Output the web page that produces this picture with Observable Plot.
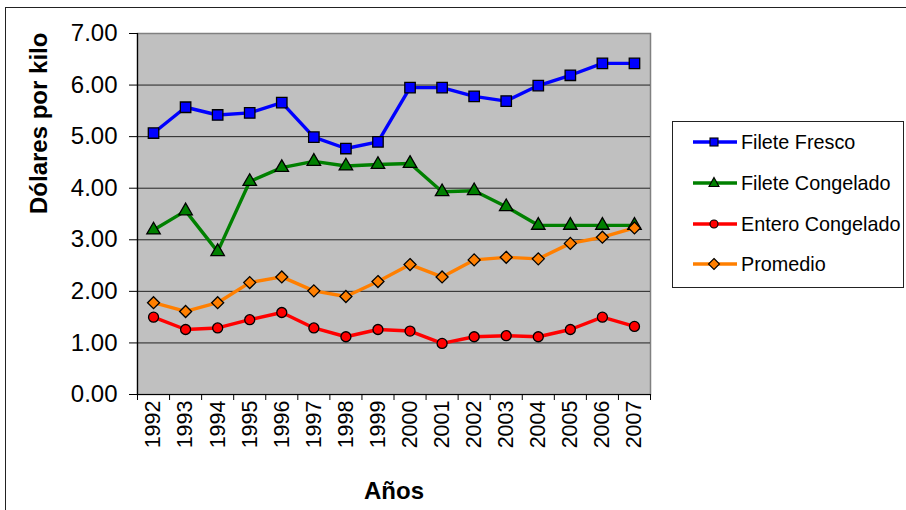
<!DOCTYPE html>
<html>
<head>
<meta charset="utf-8">
<script src="https://cdn.jsdelivr.net/npm/d3@7"></script>
<script src="https://cdn.jsdelivr.net/npm/@observablehq/plot@0.6"></script>
<style>
  html, body { margin: 0; padding: 0; background: #fff; overflow: hidden; }
  #wrap { position: relative; width: 906px; height: 510px; overflow: hidden; font-family: "Liberation Sans", Arial, sans-serif; }
  #outer { position: absolute; left: 5px; top: 7px; width: 1000px; height: 600px; border: 1.5px solid #222; box-sizing: border-box; pointer-events: none; }
  #chart { position: absolute; left: 0; top: 0; }
  #legend { position: absolute; left: 672px; top: 121px; width: 232px; height: 167px; border: 1.5px solid #222; background: #fff; box-sizing: border-box; }
  .item { position: absolute; left: 20px; height: 24px; display: flex; align-items: center; font-size: 19.8px; color: #000; white-space: nowrap; }
  .item svg { margin-right: 4px; }
</style>
</head>
<body>
<div id="wrap">
  <div id="outer"></div>
  <div id="chart"></div>
  <div id="legend"></div>
</div>
<script>
const years = [1992, 1993, 1994, 1995, 1996, 1997, 1998, 1999, 2000, 2001, 2002, 2003, 2004, 2005, 2006, 2007];
const fileteFresco     = [5.07, 5.57, 5.42, 5.46, 5.66, 4.99, 4.77, 4.90, 5.95, 5.95, 5.78, 5.69, 5.99, 6.19, 6.42, 6.42];
const fileteCongelado  = [3.19, 3.56, 2.77, 4.13, 4.40, 4.52, 4.43, 4.46, 4.48, 3.93, 3.95, 3.64, 3.28, 3.28, 3.28, 3.28];
const enteroCongelado  = [1.50, 1.26, 1.29, 1.45, 1.59, 1.29, 1.12, 1.26, 1.23, 0.99, 1.12, 1.14, 1.12, 1.26, 1.50, 1.32];
const promedio         = [1.78, 1.61, 1.78, 2.17, 2.28, 2.01, 1.90, 2.19, 2.52, 2.28, 2.61, 2.66, 2.63, 2.93, 3.05, 3.23];
const seriesNames = ["Filete Fresco", "Filete Congelado", "Entero Congelado", "Promedio"];
const yTicks = [0, 1, 2, 3, 4, 5, 6, 7];
const xTitle = "Años";
const yTitle = "Dólares por kilo";

const seriesValues = [fileteFresco, fileteCongelado, enteroCongelado, promedio];
const colors = ["#0000ff", "#008000", "#ff0000", "#ff7f00"];
const symbols = ["square", "triangle", "circle", "diamond2"];
const radii = [5.9, 5.0, 5, 5.4];

const rows = [];
seriesNames.forEach((name, i) => years.forEach((y, j) => rows.push({series: name, year: y, value: seriesValues[i][j]})));

const boundaries = years.map(y => y - 0.5).concat([years[years.length - 1] + 0.5]);
const x0 = years[0] - 0.5, x1 = years[years.length - 1] + 0.5;

const marks = [
  Plot.frame({fill: "#c0c0c0", stroke: "#808080", strokeWidth: 1.5}),
  Plot.gridY(yTicks.filter(d => d > 0 && d < 7), {stroke: "#222", strokeOpacity: 1, strokeWidth: 1}),
  Plot.ruleX([x0], {stroke: "#000", strokeWidth: 1.2}),
  Plot.ruleY([0], {stroke: "#000", strokeWidth: 1.2}),
  Plot.axisY(yTicks, {label: null, tickSize: 8, tickPadding: 12, tickFormat: d => d.toFixed(2), fontSize: 24, stroke: "#000"}),
  Plot.axisX(boundaries, {label: null, tickSize: 6, tickFormat: () => "", stroke: "#000"}),
  Plot.axisX(years, {label: null, tickSize: 0, tickPadding: 6, tickRotate: -90, tickFormat: d => String(d), fontSize: 21.5}),
  Plot.text([yTitle], {frameAnchor: "left", dx: -98, rotate: -90, fontSize: 24, fontWeight: "bold", text: d => d}),
  Plot.text([xTitle], {frameAnchor: "bottom", dy: 104, fontSize: 24, fontWeight: "bold", text: d => d})
];
seriesNames.forEach((name, i) => {
  const data = rows.filter(r => r.series === name);
  marks.push(Plot.line(data, {x: "year", y: "value", stroke: colors[i], strokeWidth: 3.4}));
});
seriesNames.forEach((name, i) => {
  const data = rows.filter(r => r.series === name);
  marks.push(Plot.dot(data, {x: "year", y: "value", symbol: () => symbols[i], r: radii[i], fill: colors[i], stroke: "#000", strokeWidth: 1.3}));
});

const chart = Plot.plot({
  width: 906,
  height: 510,
  marginLeft: 137,
  marginRight: 256,
  marginTop: 33,
  marginBottom: 116,
  x: {domain: [x0, x1], axis: null, label: null},
  y: {domain: [0, 7], axis: null, label: null},
  symbol: {type: "identity"},
  style: {fontFamily: "'Liberation Sans', Arial, sans-serif", color: "#000", background: "transparent", overflow: "visible"},
  marks
});
document.getElementById("chart").appendChild(chart);

// legend
const legend = document.getElementById("legend");
const legendY = [8, 49, 90, 130];
const legendShapes = [
  '<rect x="17" y="6" width="8" height="8" />',
  '<polygon points="21,4.5 26,13.5 16,13.5" />',
  '<circle cx="21" cy="10" r="4" />',
  '<polygon points="21,4.5 26.5,10 21,15.5 15.5,10" />'
];
seriesNames.forEach((name, i) => {
  const d = document.createElement("div");
  d.className = "item";
  d.style.top = legendY[i] + "px";
  d.innerHTML = `<svg width="44" height="20"><line x1="0" x2="44" y1="10" y2="10" stroke="${colors[i]}" stroke-width="3.4"/><g fill="${colors[i]}" stroke="#000" stroke-width="1.1">${legendShapes[i]}</g></svg><span>${name}</span>`;
  legend.appendChild(d);
});
</script>
</body>
</html>
